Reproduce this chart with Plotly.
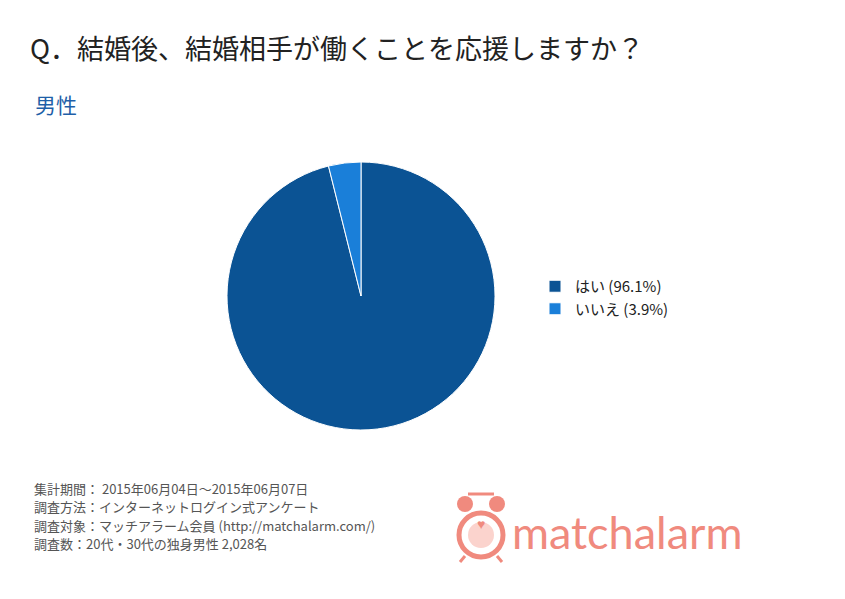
import plotly.graph_objects as go

labels = ["はい", "いいえ"]
values = [96.1, 3.9]
colors = ["#0B5394", "#1A7FD9"]

W, H = 845, 599
OFF = 8
def px(x): return (x - OFF) / W
def py(y): return 1 - (y - OFF) / H

fig = go.Figure()
fig.add_trace(go.Pie(
    labels=[f"{l} ({v}%)" for l, v in zip(labels, values)], values=values,
    marker=dict(colors=colors, line=dict(color="white", width=1)),
    sort=False, direction="clockwise", rotation=0, textinfo="none", hoverinfo="label",
    domain=dict(x=[px(227), px(495)], y=[py(430), py(162)]),
))

font = "Noto Sans CJK JP"
ann = [
    dict(x=px(28), y=py(48), text="Q．結婚後、結婚相手が働くことを応援しますか？", font=dict(size=27, color="#222", family=font)),
    dict(x=px(33), y=py(104), text="男性", font=dict(size=21, color="#1F5FA8", family=font)),
]
foot = ["集計期間： 2015年06月04日～2015年06月07日", "調査方法：インターネットログイン式アンケート",
        "調査対象：マッチアラーム会員 (http://matchalarm.com/)", "調査数：20代・30代の独身男性 2,028名"]
for i, t in enumerate(foot):
    ann.append(dict(x=px(32), y=py(488 + i * 18.5), text=t, font=dict(size=13, color="#555", family=font)))
ann.append(dict(x=px(510), y=py(532), text="matchalarm", font=dict(size=45, color="#F08A7E", family="Lato")))
for a in ann:
    a.update(xref="paper", yref="paper", xanchor="left", yanchor="middle", showarrow=False)

salmon = "#F08A7E"
shapes = [
    dict(type="circle", x0=px(459), x1=px(503), y0=py(557), y1=py(513), line=dict(color=salmon, width=5), fillcolor="white"),
    dict(type="circle", x0=px(468), x1=px(494), y0=py(548), y1=py(522), line=dict(width=0), fillcolor="#FBD3CD"),
    dict(type="circle", x0=px(457), x1=px(473), y0=py(512), y1=py(496), line=dict(width=0), fillcolor=salmon),
    dict(type="circle", x0=px(489), x1=px(505), y0=py(512), y1=py(496), line=dict(width=0), fillcolor=salmon),
    dict(type="line", x0=px(468), x1=px(494), y0=py(494), y1=py(494), line=dict(color=salmon, width=3)),
    dict(type="line", x0=px(465), x1=px(460), y0=py(556), y1=py(562), line=dict(color=salmon, width=3)),
    dict(type="line", x0=px(497), x1=px(502), y0=py(556), y1=py(562), line=dict(color=salmon, width=3)),
]
for s in shapes:
    s.update(xref="paper", yref="paper")
ann.append(dict(x=px(481), y=py(535), text="♥", showarrow=False, xref="paper", yref="paper",
                font=dict(size=14, color=salmon)))

fig.update_layout(
    width=W, height=H, margin=dict(l=0, r=0, t=0, b=0),
    paper_bgcolor="white", plot_bgcolor="white",
    showlegend=True,
    legend=dict(x=px(535), y=py(270), xanchor="left", yanchor="top",
                font=dict(size=15, color="#222", family=font), itemwidth=30, tracegroupgap=0),
    annotations=ann, shapes=shapes,
)
fig.write_html("out.html")
